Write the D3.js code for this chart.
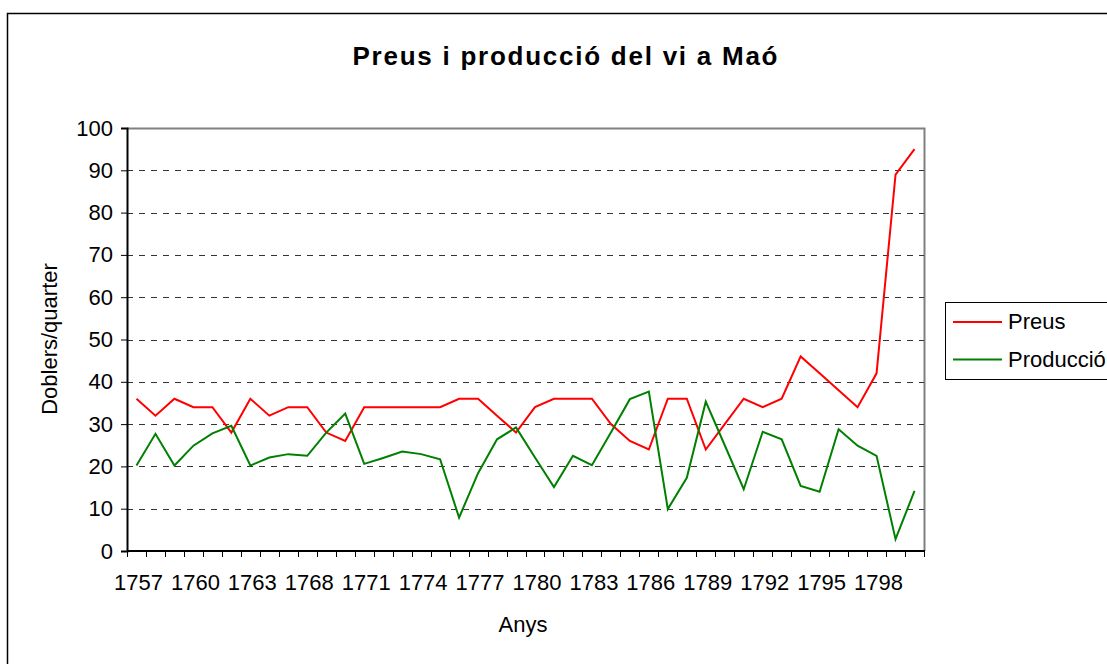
<!DOCTYPE html>
<html>
<head>
<meta charset="utf-8">
<script src="https://cdn.jsdelivr.net/npm/d3@7"></script>
<style>
  body { margin: 0; background: #fff; }
  svg { display: block; font-family: Arial, "Liberation Sans", sans-serif; }
</style>
</head>
<body>
<svg id="chart" width="1107" height="664"></svg>
<script>
// years on the category axis (two years are skipped between 1763 and 1768)
const years = [1757, 1758, 1759, 1760, 1761, 1762, 1763, 1766, 1767, 1768,
  1769, 1770, 1771, 1772, 1773, 1774, 1775, 1776, 1777, 1778, 1779, 1780,
  1781, 1782, 1783, 1784, 1785, 1786, 1787, 1788, 1789, 1790, 1791, 1792,
  1793, 1794, 1795, 1796, 1797, 1798, 1799, 1800];

const preus = [36, 32, 36, 34, 34, 28, 36, 32, 34, 34,
  28, 26, 34, 34, 34, 34, 34, 36, 36, 32, 28, 34,
  36, 36, 36, 30, 26, 24, 36, 36, 24, 30, 36, 34,
  36, 46, 42, 38, 34, 42, 89, 95];

const produccio = [20.2, 27.7, 20.2, 24.9, 27.8, 29.6, 20.2, 22.1, 22.9, 22.5,
  28, 32.5, 20.6, 22, 23.5, 22.9, 21.7, 7.9, 18.4, 26.4, 29.2, 22.1,
  15.1, 22.5, 20.3, 28, 35.9, 37.7, 9.9, 17.3, 35.3, 25, 14.6, 28.2,
  26.4, 15.4, 14, 28.8, 24.9, 22.5, 2.8, 14.2];

const yTicks = [0, 10, 20, 30, 40, 50, 60, 70, 80, 90, 100];

const series = [
  { name: 'Preus', values: preus, color: '#ff0000' },
  { name: 'Producció', values: produccio, color: '#008000' }
];

const fontSize = 22;
const svg = d3.select('#chart');

// outer chart frame
svg.append('rect')
  .attr('x', 7.5).attr('y', 13.5)
  .attr('width', 1120).attr('height', 700)
  .attr('fill', 'none')
  .attr('stroke', '#000')
  .attr('stroke-width', 1.5);

const plot = { left: 127, top: 128, right: 924, bottom: 551 };

const x = d3.scaleBand()
  .domain(years)
  .range([plot.left, plot.right]);

const y = d3.scaleLinear()
  .domain([0, 100])
  .range([plot.bottom, plot.top]);

// plot area border (gray)
svg.append('path')
  .attr('d', `M${plot.left},${plot.top + 0.5}H${plot.right + 0.5}V${plot.bottom}`)
  .attr('fill', 'none')
  .attr('stroke', '#808080')
  .attr('stroke-width', 2);

// dashed gridlines
svg.append('g')
  .selectAll('line')
  .data(yTicks.filter(d => d > 0 && d < 100))
  .join('line')
  .attr('x1', plot.left)
  .attr('x2', plot.right)
  .attr('y1', d => Math.round(y(d)) + 0.5)
  .attr('y2', d => Math.round(y(d)) + 0.5)
  .attr('stroke', '#333')
  .attr('stroke-width', 1)
  .attr('stroke-dasharray', '6,6');

// Y axis
const yAxis = svg.append('g')
  .attr('transform', `translate(${plot.left},0)`)
  .call(d3.axisLeft(y).tickValues(yTicks).tickSize(6).tickPadding(8));
yAxis.select('.domain').attr('stroke', '#000').attr('stroke-width', 2);
yAxis.selectAll('.tick line').attr('stroke', '#000');
yAxis.selectAll('text').attr('font-size', fontSize).attr('fill', '#000')
  .attr('font-family', 'Arial, "Liberation Sans", sans-serif');

// X axis: ticks at category boundaries, labels every third category
const xAxis = svg.append('g')
  .attr('transform', `translate(0,${plot.bottom})`);
xAxis.append('line')
  .attr('x1', plot.left).attr('x2', plot.right + 1)
  .attr('y1', 0).attr('y2', 0)
  .attr('stroke', '#000').attr('stroke-width', 2);
xAxis.selectAll('.xt')
  .data(years.concat(['end']))
  .join('line')
  .attr('x1', (d, i) => Math.round(plot.left + i * x.step()) + 0.5)
  .attr('x2', (d, i) => Math.round(plot.left + i * x.step()) + 0.5)
  .attr('y1', 0).attr('y2', 6)
  .attr('stroke', '#000');
xAxis.selectAll('.xl')
  .data(years.filter((d, i) => i % 3 === 0))
  .join('text')
  .attr('x', d => x(d) + x.bandwidth() / 2 + 2)
  .attr('y', 39)
  .attr('text-anchor', 'middle')
  .attr('font-size', fontSize)
  .text(d => d);

// lines
const line = d3.line()
  .x((d, i) => x(years[i]) + x.bandwidth() / 2)
  .y(d => y(d));

svg.append('g')
  .selectAll('path')
  .data(series)
  .join('path')
  .attr('d', d => line(d.values))
  .attr('fill', 'none')
  .attr('stroke', d => d.color)
  .attr('stroke-width', 2);

// title
svg.append('text')
  .attr('x', 565)
  .attr('y', 65)
  .attr('text-anchor', 'middle')
  .attr('font-size', 26)
  .attr('font-weight', 'bold')
  .attr('textLength', 425)
  .attr('lengthAdjust', 'spacing')
  .text('Preus i producció del vi a Maó');

// axis titles
svg.append('text')
  .attr('x', 523)
  .attr('y', 632)
  .attr('text-anchor', 'middle')
  .attr('font-size', fontSize)
  .text('Anys');

svg.append('text')
  .attr('transform', 'translate(57,339) rotate(-90)')
  .attr('text-anchor', 'middle')
  .attr('font-size', fontSize)
  .text('Doblers/quarter');

// legend
const legend = svg.append('g');
legend.append('rect')
  .attr('x', 945.5).attr('y', 302.5)
  .attr('width', 200).attr('height', 77)
  .attr('fill', '#fff')
  .attr('stroke', '#000');
const item = legend.selectAll('.item')
  .data(series)
  .join('g')
  .attr('transform', (d, i) => `translate(953,${322 + i * 37.5})`);
item.append('line')
  .attr('x1', 0).attr('x2', 49)
  .attr('stroke', d => d.color)
  .attr('stroke-width', 2);
item.append('text')
  .attr('x', 55)
  .attr('y', 7)
  .attr('font-size', fontSize)
  .text(d => d.name);
</script>
</body>
</html>
